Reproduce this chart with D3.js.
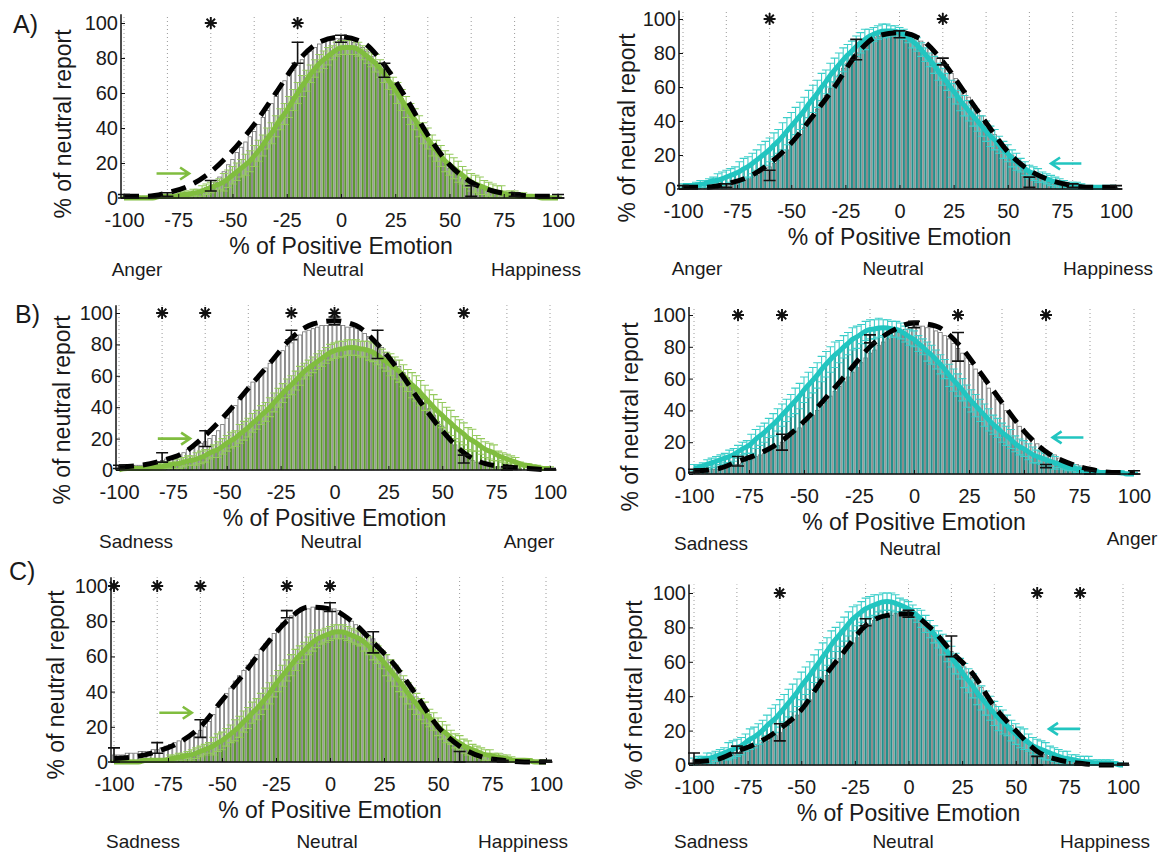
<!DOCTYPE html>
<html>
<head>
<meta charset="utf-8">
<script src="https://cdn.jsdelivr.net/npm/d3@7"></script>
<style>
  body { margin: 0; background: #fff; }
  svg { display: block; }
  text { font-family: "Liberation Sans", Arial, sans-serif; fill: #1a1a1a; }
</style>
</head>
<body>
<svg id="fig" width="1161" height="854"></svg>
<script>
// histogram bins (-100..100 step 2) and fit sample points (step 10)
var binX = d3.range(-100, 101, 2);
var fitX = d3.range(-100, 101, 10);
var xTicks = [-100, -75, -50, -25, 0, 25, 50, 75, 100];
var yTicks = [0, 20, 40, 60, 80, 100];
var gridX = [-100, -80, -60, -40, -20, 0, 20, 40, 60, 80, 100];

var catsA = ["Anger", "Neutral", "Happiness"];
var catsB = ["Sadness", "Neutral", "Anger"];
var catsC = ["Sadness", "Neutral", "Happiness"];

// ---- A) left (green) ----
var grayA1 = [1,1,1,1,1,1,1,1,2,2, 2,2,2,2,3,3,3,4,5,6, 7,9,12,15,19,22,26,29,32,35,
  38,42,46,50,54,58,63,67,70,73, 76,79,82,84,86,88,89,90,90,91, 91,91,90,89,88,86,84,81,78,75,
  72,68,65,61,57,53,49,45,41,37, 33,29,26,23,20,17,15,13,11,9, 8,7,6,5,4,3,3,2,2,2, 2,1,1,1,1,1,1,1,1,1, 1];
var colA1 = [0,0,0,0,0,0,0,0,1,1, 1,1,1,2,2,2,3,3,4,5, 6,7,8,9,11,13,15,17,19,21,
  24,27,30,34,37,41,45,48,52,56, 60,64,67,71,74,77,79,81,83,85, 86,86,86,86,85,83,81,79,77,74,
  71,67,64,60,56,52,48,45,41,37, 34,30,27,24,21,19,17,15,13,11, 9,8,7,6,5,4,3,3,2,2, 2,1,1,1,1,1,0,0,0,0, 0];
var fitA1 = [1,1,3,7,15,27,42,60,78,89,92,89,76,57,36,19,9,4,2,1,1];
var errA1 = [1,1,1,2,3,5,6,6,6,5,4,4,5,6,6,6,5,4,2,1,1];
var blackA1 = [[-100,1,1],[-80,2,1],[-60,7,3],[-20,83,6],[0,91,2],[20,73,4],[60,4,3],[80,2,1],[100,1,1]];
var starsA1 = [-60, -20];
var arrowA1 = [-85, -70, 14];

// ---- A) right (cyan) ----
var grayA2 = [1,1,1,1,1,1,1,1,2,2, 2,3,3,4,5,6,7,8,10,11, 13,15,17,20,23,26,29,32,36,40,
  43,47,51,55,59,63,67,71,74,77, 80,83,85,87,89,90,91,91,92,92, 92,91,91,90,89,87,85,83,80,77,
  74,71,68,65,61,58,54,50,47,43, 39,36,32,29,26,23,20,17,15,12, 10,8,7,6,5,4,3,3,2,2, 2,1,1,1,1,1,1,1,1,1, 1];
var colA2 = [2,2,2,2,3,3,4,5,5,6, 7,8,9,10,12,13,15,17,19,21, 23,26,28,31,34,37,40,43,46,50,
  53,56,60,63,67,70,73,76,79,81, 84,86,88,90,91,92,93,93,93,93, 92,91,89,87,85,82,79,76,73,69,
  66,63,59,56,52,49,46,43,40,37, 34,31,29,26,23,21,18,16,14,12, 10,9,8,7,6,5,4,3,3,2, 2,2,1,1,1,1,1,1,1,1, 1];
var fitA2 = [1,1,3,7,15,27,43,60,79,90,92,88,75,57,39,22,11,5,2,1,1];
var errA2 = [1,2,4,6,7,8,8,7,6,4,3,4,5,6,6,5,4,3,2,1,1];
var blackA2 = [[-100,1,1],[-80,2,1],[-60,8,3],[-20,82,6],[0,91,2],[20,75,2],[60,4,3],[80,2,1],[100,1,1]];
var starsA2 = [-60, 20];
var arrowA2 = [84, 70, 15];

// ---- B) left (green) ----
var grayB1 = [2,2,2,3,3,3,4,4,5,5, 6,7,8,9,10,11,13,14,16,17, 18,20,22,25,29,33,37,41,45,49,
  53,56,59,62,65,68,71,74,76,79, 81,84,86,88,89,90,91,92,92,92, 92,92,92,91,91,90,89,87,85,83,
  80,78,75,72,69,66,62,59,55,51, 47,43,39,35,31,28,24,20,16,13, 10,8,6,5,4,3,3,2,2,1, 1,1,1,1,0,0,0,0,0,0, 0];
var colB1 = [0,1,1,1,1,1,1,1,2,2, 2,3,3,4,4,5,6,6,7,8, 9,11,12,13,15,17,19,20,23,25,
  27,30,32,35,37,40,43,46,49,52, 54,57,60,63,65,67,69,71,73,75, 76,77,77,78,78,78,77,77,76,75,
  73,71,69,67,65,63,60,57,54,52, 49,46,43,40,37,35,32,30,27,25, 23,20,19,17,15,13,12,11,9,8, 7,6,5,4,3,3,2,2,1,1, 1];
var fitB1 = [2,3,6,11,22,36,52,68,84,93,95,92,80,63,43,25,11,4,2,1,0];
var errB1 = [1,1,2,3,4,5,6,6,6,5,5,5,6,7,8,8,7,5,3,1,1];
var blackB1 = [[-100,2,1],[-80,8,3],[-60,20,5],[-20,86,3],[0,95,2.5],[20,80,9],[60,7,2.5],[80,1,1],[100,0.5,0.5]];
var starsB1 = [-80, -60, -20, 0, 60];
var arrowB1 = [-82, -67, 20];

// ---- B) right (cyan) ----
var grayB2 = [2,2,2,2,3,3,4,4,5,6, 6,7,8,9,11,12,13,15,16,18, 20,22,24,27,29,31,34,37,40,43,
  46,49,52,55,58,61,64,67,70,73, 76,78,81,83,85,87,89,90,91,92, 93,93,93,92,92,90,89,87,85,82,
  79,76,73,69,66,62,58,54,51,47, 44,40,36,33,30,27,24,22,19,17, 15,13,12,10,9,8,7,6,5,4, 3,3,2,2,2,1,1,1,1,1, 0];
var colB2 = [4,4,5,6,7,8,9,10,11,12, 14,16,17,19,22,24,26,29,31,34, 37,40,43,46,49,53,56,59,62,66,
  69,72,75,77,80,82,85,86,88,90, 91,91,92,92,92,91,91,90,88,86, 85,82,80,77,75,72,69,66,62,59,
  56,53,49,46,43,40,37,34,31,29, 26,24,22,19,17,16,14,12,11,10, 9,8,7,6,5,4,4,3,3,2, 2,2,1,1,1,1,1,1,0,0, 0];
var fitB2 = [2,3,8,13,21,33,48,64,80,90,95,93,82,64,45,27,14,7,3,1,1];
var errB2 = [2,3,4,6,7,8,8,7,6,5,5,6,7,7,6,5,4,2,1,1,1];
var blackB2 = [[-100,2,1],[-80,8,3],[-60,20,5],[-20,85,2.5],[0,94,2],[20,80,9],[60,5,1],[80,1,1],[100,1,1]];
var starsB2 = [-80, -60, 20, 60];
var arrowB2 = [77, 63, 23];

// ---- C) left (green) ----
var grayC1 = [4,4,4,5,5,5,6,6,6,7, 7,8,9,10,11,12,13,14,15,16, 18,20,23,27,31,35,39,42,46,49,
  52,55,58,61,64,67,70,73,76,79, 81,83,85,86,87,87,88,88,88,88, 87,87,86,84,82,80,78,76,74,72,
  70,67,64,61,58,55,51,47,44,40, 37,34,30,27,24,21,18,15,12,11, 9,8,7,6,5,4,4,3,3,2, 2,2,1,1,1,1,1,0,0,0, 0];
var colC1 = [0,0,0,0,0,0,0,1,1,1, 1,1,1,2,2,3,3,4,4,5, 6,7,8,9,11,12,14,16,18,20,
  23,25,28,30,33,36,39,43,46,49, 52,55,58,61,63,66,68,70,71,72, 73,74,74,74,73,72,71,70,68,66,
  63,61,58,55,52,49,46,43,39,36, 33,30,28,25,23,20,18,16,14,12, 11,9,8,7,6,5,4,4,3,3, 2,2,1,1,1,1,1,0,0,0, 0];
var fitC1 = [2,3,6,11,20,35,50,66,80,88,87,80,68,55,38,20,9,3,1,0,0];
var errC1 = [1,1,1,2,3,5,6,6,6,5,4,4,5,6,6,5,4,3,2,1,1];
var blackC1 = [[-100,4,4],[-80,8,3],[-60,19,5],[-20,84,2],[0,88,2.5],[20,68,6],[60,3,3],[80,0.5,0.5],[100,0.5,0.5]];
var starsC1 = [-100, -80, -60, -20, 0];
var arrowC1 = [-79, -64, 28];

// ---- C) right (cyan) ----
var grayC2 = [3,3,3,4,4,4,5,5,6,6, 7,8,9,10,11,12,13,14,16,17, 19,21,23,26,29,32,35,38,42,45,
  49,52,56,59,62,65,68,71,74,77, 80,82,84,85,86,87,87,88,88,88, 88,87,86,84,82,80,77,75,72,69,
  66,63,60,57,54,51,48,45,42,38, 35,32,29,26,23,20,17,14,12,10, 8,7,6,5,4,3,3,2,2,1, 1,1,1,1,1,0,0,0,0,0, 0];
var colC2 = [2,3,3,4,4,5,6,7,8,9, 10,11,13,15,16,18,20,23,25,27, 30,33,36,39,42,46,49,52,56,59,
  63,66,70,73,76,79,82,85,87,89, 91,92,93,94,95,95,95,94,93,92, 91,89,87,85,82,79,76,73,70,66,
  63,59,56,52,49,46,42,39,36,33, 30,27,25,23,20,18,16,15,13,11, 10,9,8,7,6,5,4,4,3,3, 2,2,2,1,1,1,1,1,1,0, 0];
var fitC2 = [2,3,8,13,21,32,50,66,81,87,88,80,66,53,34,20,8,3,1,0,0];
var errC2 = [2,3,5,6,8,8,8,7,6,5,4,5,6,7,7,6,5,4,3,2,1];
var blackC2 = [[-100,4,3],[-80,9,2],[-60,19,5],[-20,83,2],[0,88,2],[20,69,6],[60,2.5,2.5],[80,0.5,0.5],[100,0.5,0.5]];
var starsC2 = [-60, 60, 80];
var arrowC2 = [80, 65.5, 21];

var green = { bar: "#5c9a2e", err: "#95ca5e", curve: "#80bd3f" };
var cyan = { bar: "#22908c", err: "#3dcfca", curve: "#22c5c0" };

var panels = [
  { x0: 124, x1: 558, yb: 198, yt: 23, ax: 121, gray: grayA1, col: colA1, fit: fitA1, err: errA1, black: blackA1,
    stars: starsA1, arrow: arrowA1, theme: green, cats: catsA, catX: [137, 333, 536], catY: [276, 276, 276], yTitle: [63, 124] },
  { x0: 683, x1: 1116, yb: 189, yt: 19, ax: 679, gray: grayA2, col: colA2, fit: fitA2, err: errA2, black: blackA2,
    stars: starsA2, arrow: arrowA2, theme: cyan, cats: catsA, catX: [697, 893, 1108], catY: [275, 275, 275], yTitle: [627, 128] },
  { x0: 119, x1: 550, yb: 470, yt: 313, ax: 116, gray: grayB1, col: colB1, fit: fitB1, err: errB1, black: blackB1,
    stars: starsB1, arrow: arrowB1, theme: green, cats: catsB, catX: [136, 331, 529], catY: [548, 548, 548], yTitle: [62, 410] },
  { x0: 694, x1: 1134, yb: 474, yt: 315, ax: 689, gray: grayB2, col: colB2, fit: fitB2, err: errB2, black: blackB2,
    stars: starsB2, arrow: arrowB2, theme: cyan, cats: catsB, catX: [711, 910, 1132], catY: [550, 555, 545], yTitle: [630, 417] },
  { x0: 114, x1: 546, yb: 762, yt: 586, ax: 111, gray: grayC1, col: colC1, fit: fitC1, err: errC1, black: blackC1,
    stars: starsC1, arrow: arrowC1, theme: green, cats: catsC, catX: [143, 327, 523], catY: [848, 848, 848], yTitle: [56, 685] },
  { x0: 694, x1: 1123, yb: 765, yt: 593, ax: 689, gray: grayC2, col: colC2, fit: fitC2, err: errC2, black: blackC2,
    stars: starsC2, arrow: arrowC2, theme: cyan, cats: catsC, catX: [711, 903, 1105], catY: [848, 848, 848], yTitle: [634, 695] }
];

var svg = d3.select("#fig");

// eight-spoke asterisk used for significance marks
var asterisk = {
  draw: function(ctx, size) {
    var r = Math.sqrt(size) / 2;
    for (var k = 0; k < 4; k++) {
      var a = k * Math.PI / 4;
      ctx.moveTo(-r * Math.cos(a), -r * Math.sin(a));
      ctx.lineTo(r * Math.cos(a), r * Math.sin(a));
    }
  }
};

function errPath(cx, top, bot, hw) {
  return "M" + (cx - hw) + "," + top + "H" + (cx + hw) +
         "M" + cx + "," + top + "V" + bot +
         "M" + (cx - hw) + "," + bot + "H" + (cx + hw);
}

function drawPanel(p) {
  var g = svg.append("g");
  var x = d3.scaleLinear().domain([-100, 100]).range([p.x0, p.x1]);
  var y = d3.scaleLinear().domain([0, 100]).range([p.yb, p.yt]);
  var step = (p.x1 - p.x0) / 100;

  // dotted grid
  g.append("g").selectAll("line").data(gridX).join("line")
    .attr("x1", d => x(d)).attr("x2", d => x(d))
    .attr("y1", y(0)).attr("y2", y(105))
    .attr("stroke", "#9a9a9a").attr("stroke-width", 1).attr("stroke-dasharray", "1,3");

  // baseline bars (outlined)
  g.append("g").selectAll("rect").data(p.gray).join("rect")
    .attr("x", (d, i) => x(binX[i]) - step * 0.4).attr("width", step * 0.8)
    .attr("y", d => y(d)).attr("height", d => y(0) - y(d))
    .attr("fill", "#fff").attr("stroke", "#707070").attr("stroke-width", 0.8);

  // condition bars
  g.append("g").selectAll("rect").data(p.col).join("rect")
    .attr("x", (d, i) => x(binX[i]) - step * 0.25).attr("width", step * 0.5)
    .attr("y", d => y(d)).attr("height", d => y(0) - y(d))
    .attr("fill", p.theme.bar);

  // condition error bars
  g.append("g").selectAll("path").data(p.col).join("path")
    .attr("d", (d, i) => {
      var e = p.err[Math.round(i / 5)];
      return errPath(x(binX[i]), y(d + e), y(Math.max(0, d - e)), 4);
    })
    .attr("fill", "none").attr("stroke", p.theme.err).attr("stroke-width", 1.1);

  // condition fitted curve
  var line = d3.line().x((d, i) => x(binX[i])).y(d => y(d)).curve(d3.curveBasis);
  g.append("path").attr("d", line(p.col))
    .attr("fill", "none").attr("stroke", p.theme.curve).attr("stroke-width", 5);

  // baseline fit (dashed)
  var fitLine = d3.line().x((d, i) => x(fitX[i])).y(d => y(d)).curve(d3.curveMonotoneX);
  g.append("path").attr("d", fitLine(p.fit))
    .attr("fill", "none").attr("stroke", "#000").attr("stroke-width", 5).attr("stroke-dasharray", "15,9");

  // baseline data points error bars
  g.append("g").selectAll("path").data(p.black).join("path")
    .attr("d", d => errPath(x(d[0]), y(d[1] + d[2]), y(Math.max(0, d[1] - d[2])), 6))
    .attr("fill", "none").attr("stroke", "#111").attr("stroke-width", 1.6);

  // axes lines
  g.append("line").attr("x1", p.ax).attr("x2", p.ax).attr("y1", y(0)).attr("y2", y(105))
    .attr("stroke", "#111").attr("stroke-width", 1.5);
  g.append("line").attr("x1", p.ax).attr("x2", x(103)).attr("y1", y(0)).attr("y2", y(0))
    .attr("stroke", "#111").attr("stroke-width", 1.5);

  var xa = g.append("g").attr("transform", "translate(0," + y(0) + ")")
    .call(d3.axisBottom(x).tickValues(xTicks).tickFormat(d => String(d))
      .tickSizeInner(-4).tickSizeOuter(0).tickPadding(15));
  xa.select(".domain").remove();
  xa.selectAll("text").attr("font-size", 20).attr("font-family", null);
  xa.selectAll("line").attr("stroke", "#111");

  var ya = g.append("g").attr("transform", "translate(" + p.ax + ",0)")
    .call(d3.axisLeft(y).tickValues(yTicks).tickFormat(d => String(d))
      .tickSizeInner(-4).tickSizeOuter(0).tickPadding(3));
  ya.select(".domain").remove();
  ya.selectAll("text").attr("font-size", 20).attr("font-family", null);
  ya.selectAll("line").attr("stroke", "#111");

  // asterisks
  g.append("g").selectAll("path").data(p.stars).join("path")
    .attr("transform", d => "translate(" + x(d) + "," + y(100) + ")")
    .attr("d", d3.symbol().type(asterisk).size(144))
    .attr("fill", "none").attr("stroke", "#111").attr("stroke-width", 1.9);

  // arrow
  var a = p.arrow, xs = x(a[0]), xe = x(a[1]), ya2 = y(a[2]), dir = xe > xs ? 1 : -1;
  g.append("path")
    .attr("d", "M" + xs + "," + ya2 + "H" + xe + "M" + (xe - dir * 9) + "," + (ya2 - 6) + "L" + xe + "," + ya2 + "L" + (xe - dir * 9) + "," + (ya2 + 6))
    .attr("fill", "none").attr("stroke", p.theme.curve).attr("stroke-width", 2.6);

  // titles
  g.append("text").attr("x", x(0)).attr("y", y(0) + 56).attr("text-anchor", "middle")
    .attr("font-size", 23).text("% of Positive Emotion");
  g.append("text").attr("text-anchor", "middle").attr("dominant-baseline", "central")
    .attr("transform", "translate(" + p.yTitle[0] + "," + p.yTitle[1] + ")rotate(-90)")
    .attr("font-size", 23).text("% of neutral report");
  g.append("g").selectAll("text").data(p.cats).join("text")
    .attr("x", (d, i) => p.catX[i]).attr("y", (d, i) => p.catY[i])
    .attr("text-anchor", "middle").attr("font-size", 19).text(d => d);
}

panels.forEach(drawPanel);

svg.append("text").attr("x", 13).attr("y", 33).attr("font-size", 25).text("A)");
svg.append("text").attr("x", 15).attr("y", 323).attr("font-size", 25).text("B)");
svg.append("text").attr("x", 9).attr("y", 580).attr("font-size", 25).text("C)");
</script>
</body>
</html>
